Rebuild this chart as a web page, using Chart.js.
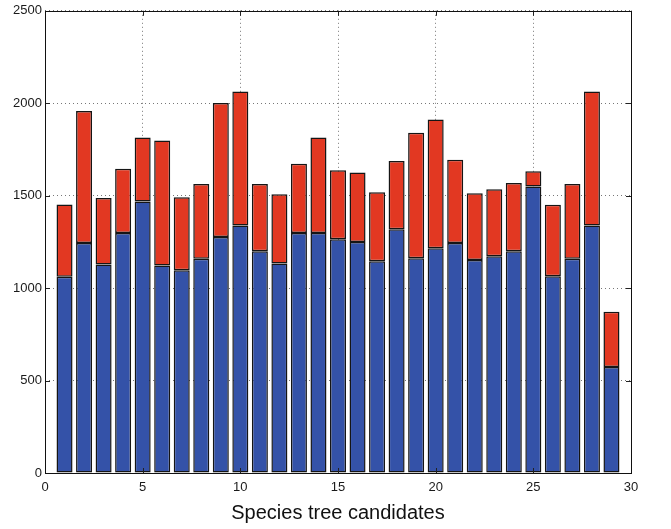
<!DOCTYPE html>
<html>
<head>
<meta charset="utf-8">
<script src="https://cdn.jsdelivr.net/npm/chart.js@4/dist/chart.umd.min.js"></script>
<style>
  html, body { margin: 0; padding: 0; background: #fff; }
  #wrap { width: 671px; height: 529px; }
</style>
</head>
<body>
<div id="wrap"><canvas id="bars" width="671" height="529"></canvas></div>
<script>
// species tree candidates 1..29
var candidates = [1,2,3,4,5,6,7,8,9,10,11,12,13,14,15,16,17,18,19,20,21,22,23,24,25,26,27,28,29];
// bottom (blue) part of each bar
var blueValues = [1062,1244,1128,1298,1468,1122,1096,1159,1277,1339,1200,1133,1298,1298,1264,1249,1145,1319,1161,1215,1244,1152,1172,1200,1550,1064,1159,1339,574];
// full bar height
var totalValues = [1452,1958,1487,1645,1815,1798,1492,1563,2001,2064,1563,1508,1673,1815,1638,1625,1519,1687,1840,1912,1694,1513,1535,1569,1632,1451,1563,2064,872];
var redValues = totalValues.map(function (t, i) { return t - blueValues[i]; });

var xTicks = [0, 5, 10, 15, 20, 25, 30];
var yTicks = [0, 500, 1000, 1500, 2000, 2500];

// box around the plot + little inward ticks, matlab style
var framePlugin = {
  id: 'frame',
  afterDraw: function (chart) {
    var ctx = chart.ctx, a = chart.chartArea;
    var xs = chart.scales.x, ys = chart.scales.y;
    ctx.save();
    ctx.strokeStyle = '#222';
    ctx.lineWidth = 1;
    ctx.beginPath();
    xTicks.forEach(function (v) {
      var px = Math.round(xs.getPixelForValue(v)) + 0.5;
      ctx.moveTo(px, a.bottom); ctx.lineTo(px, a.bottom - 5);
      ctx.moveTo(px, a.top); ctx.lineTo(px, a.top + 5);
    });
    yTicks.forEach(function (v) {
      var py = Math.round(ys.getPixelForValue(v)) + 0.5;
      ctx.moveTo(a.left, py); ctx.lineTo(a.left + 5, py);
      ctx.moveTo(a.right, py); ctx.lineTo(a.right - 5, py);
    });
    ctx.stroke();
    ctx.strokeStyle = '#111';
    ctx.strokeRect(Math.round(a.left) + 0.5, Math.round(a.top) + 0.5,
      Math.round(a.right - a.left), Math.round(a.bottom - a.top));
    ctx.restore();
  }
};

new Chart(document.getElementById('bars'), {
  type: 'bar',
  data: {
    labels: candidates,
    datasets: [
      {
        label: 'blue',
        data: blueValues,
        backgroundColor: 'rgb(52,82,168)',
        borderColor: '#151515',
        borderWidth: 1.5,
        borderSkipped: false
      },
      {
        label: 'red',
        data: redValues,
        backgroundColor: 'rgb(226,56,34)',
        borderColor: '#151515',
        borderWidth: 1.5,
        borderSkipped: false
      }
    ]
  },
  options: {
    responsive: false,
    animation: false,
    barPercentage: 0.82,
    categoryPercentage: 1.0,
    layout: { padding: { left: 0, right: 40, top: 10, bottom: 0 } },
    plugins: {
      legend: { display: false },
      tooltip: { enabled: false }
    },
    scales: {
      x: {
        type: 'linear',
        stacked: true,
        offset: false,
        min: 0,
        max: 30,
        afterBuildTicks: function (s) { s.ticks = xTicks.map(function (v) { return { value: v }; }); },
        afterFit: function (s) { s.height = 56; },
        ticks: {
          padding: 7,
          color: '#1a1a1a',
          font: { family: 'Liberation Sans', size: 13 },
          callback: function (v) { return String(v); }
        },
        grid: { color: '#777', lineWidth: 1, drawTicks: false, offset: false },
        border: { display: false, dash: [1, 3] },
        title: {
          display: true,
          text: 'Species tree candidates',
          color: '#111',
          font: { family: 'Liberation Sans', size: 20 },
          padding: { top: 2, bottom: 4 }
        }
      },
      y: {
        stacked: true,
        min: 0,
        max: 2500,
        afterBuildTicks: function (s) { s.ticks = yTicks.map(function (v) { return { value: v }; }); },
        afterFit: function (s) { s.width = 45; },
        ticks: {
          padding: 3,
          color: '#1a1a1a',
          font: { family: 'Liberation Sans', size: 13 },
          callback: function (v) { return String(v); }
        },
        grid: { color: '#777', lineWidth: 1, drawTicks: false },
        border: { display: false, dash: [1, 3] }
      }
    }
  },
  plugins: [framePlugin]
});
</script>
</body>
</html>
